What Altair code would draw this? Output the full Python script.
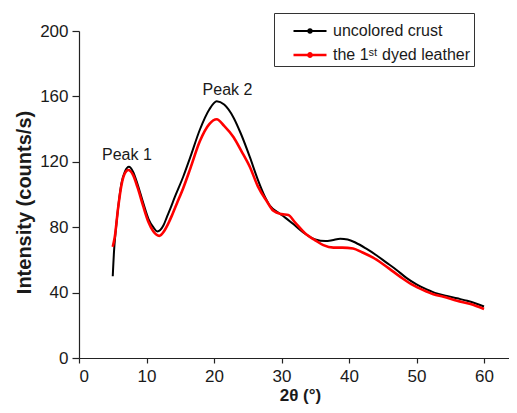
import altair as alt
import pandas as pd

# ---- data ----
black_x = [5.0, 5.2, 5.4, 5.8, 6.3, 6.8, 7.4, 8.0, 8.7, 9.5, 10.3, 11.0, 11.6, 12.5, 13.0, 13.5,
           14.2, 15.45, 16.5, 17.9, 19.3, 20.4, 21.5, 22.9, 24.0, 25.3, 26.5, 27.5, 28.3, 29.5,
           30.5, 32.0, 33.5, 35.0, 36.5, 37.5, 38.7, 39.8, 41.0, 42.5, 44.0, 45.5, 47.0, 48.5,
           50.0, 51.5, 53.0, 54.5, 56.0, 57.5, 59.0, 60.0]
black_y = [50, 66, 76, 92, 107, 114, 117, 114, 106, 95, 85, 80, 77.4, 81, 86, 91,
           98.5, 111, 123, 139.6, 152, 157, 155, 147, 137, 123, 109, 99, 93, 89,
           86, 81, 76, 72.5, 71.5, 72, 73, 72.5, 70.5, 67, 63, 58.5, 54, 49,
           45, 42, 39.5, 38, 36.5, 35, 33, 31.5]

red_x = [5.0, 5.3, 5.8, 6.3, 6.8, 7.3, 8.0, 8.7, 9.5, 10.3, 11.0, 11.9, 12.6, 13.2, 13.8,
         14.5, 15.45, 16.5, 17.9, 19.3, 20.4, 21.5, 22.9, 24.0, 25.3, 26.5, 27.8, 28.8, 30.0,
         31.0, 32.0, 33.7, 35.0, 36.2, 37.7, 39.0, 40.6, 42.0, 43.5, 45.0, 46.5, 48.0, 49.5,
         51.0, 52.5, 54.0, 56.0, 58.0, 60.0]
red_y = [68, 74, 92, 106, 113, 115, 112, 104, 93, 83, 77.5, 74.7, 77.5, 82, 87.5,
         94.5, 104, 116, 132.5, 143, 146, 142, 135, 127, 117, 105, 96, 90, 88,
         87.5, 83, 75.5, 72, 69, 67.5, 67.5, 67, 64.5, 61.5, 57.5, 53, 48.5, 44.5,
         41.5, 39, 37.5, 35, 33, 30]

series_names = ["uncolored crust", "the 1\u02e2\u1d57 dyed leather"]
series_colors = ["#000000", "#ff0000"]
series_widths = [2.0, 2.6]

peak_labels = ["Peak 1", "Peak 2"]
peak_x = [7.1, 22.0]
peak_y = [120.8, 161.0]

x_ticks = [0, 5, 10, 15, 20, 25, 30, 35, 40, 45, 50, 55, 60]
y_ticks = [0, 20, 40, 60, 80, 100, 120, 140, 160, 180, 200]

df = pd.concat([
    pd.DataFrame({"x": black_x, "y": black_y, "series": series_names[0]}),
    pd.DataFrame({"x": red_x, "y": red_y, "series": series_names[1]}),
], ignore_index=True)

ann = pd.DataFrame({"x": peak_x, "y": peak_y, "label": peak_labels})

FONT = "Liberation Sans"

x_enc = alt.X(
    "x:Q",
    scale=alt.Scale(domain=[0, 63.7], nice=False, zero=False),
    axis=alt.Axis(
        values=x_ticks,
        labelExpr="datum.value % 10 === 0 ? datum.label : ''",
        tickSize={"condition": {"test": "datum.value % 10 === 0", "value": 5}, "value": 3},
        labelPadding=5,
        title="2\u03b8 (\u00b0)",
        titleFontSize=17,
        titleFontWeight="bold",
        titleX=221,
        titleY=37,
        titleAlign="center",
        titleBaseline="middle",
    ),
)
y_enc = alt.Y(
    "y:Q",
    scale=alt.Scale(domain=[0, 200], nice=False),
    axis=alt.Axis(
        values=y_ticks,
        labelExpr="datum.value % 40 === 0 ? datum.label : ''",
        tickSize={"condition": {"test": "datum.value % 40 === 0", "value": 7}, "value": 4},
        labelPadding=4,
        title="Intensity (counts/s)",
        titleFontSize=20,
        titleFontWeight="bold",
        titleX=-55,
        titleY=171,
        titleAlign="center",
        titleBaseline="middle",
    ),
)

lines = alt.Chart(df).mark_line(interpolate="monotone").encode(
    x=x_enc,
    y=y_enc,
    color=alt.Color(
        "series:N",
        scale=alt.Scale(domain=series_names, range=series_colors),
        legend=alt.Legend(
            title=" ",
            titleFontSize=6,
            titlePadding=1,
            orient="none",
            legendX=195,
            legendY=-18,
            padding=3,
            strokeColor="#333333",
            fillColor="white",
            labelFont=FONT,
            labelFontSize=16,
            labelColor="#1a1a1a",
            labelOffset=5,
            symbolOffset=15,
            symbolType="M-1,0H1M-0.1,0A0.1,0.1,0,1,1,0.1,0A0.1,0.1,0,1,1,-0.1,0Z",
            symbolSize=1089,
            symbolStrokeWidth=1.5,
            clipHeight=16,
            rowPadding=8,
        ),
    ),
    strokeWidth=alt.StrokeWidth(
        "series:N",
        scale=alt.Scale(domain=series_names, range=series_widths),
        legend=None,
    ),
)

text = alt.Chart(ann).mark_text(
    font=FONT, fontSize=16, align="center", baseline="alphabetic", color="#1a1a1a"
).encode(x="x:Q", y="y:Q", text="label:N")

chart = (
    alt.layer(lines, text)
    .properties(
        width=430,
        height=327,
        autosize=alt.AutoSizeParams(type="none"),
        padding={"left": 71, "top": 23, "right": 0, "bottom": 47},
    )
    .configure_view(stroke=None)
    .configure_axis(
        grid=False,
        labelFont=FONT,
        titleFont=FONT,
        labelFontSize=17,
        labelColor="#1a1a1a",
        titleColor="#1a1a1a",
        domainColor="#222222",
        tickColor="#222222",
        domainWidth=1.2,
        tickWidth=1.2,
    )
)

chart.save("out.html", embed_options={"renderer": "svg", "actions": False})
